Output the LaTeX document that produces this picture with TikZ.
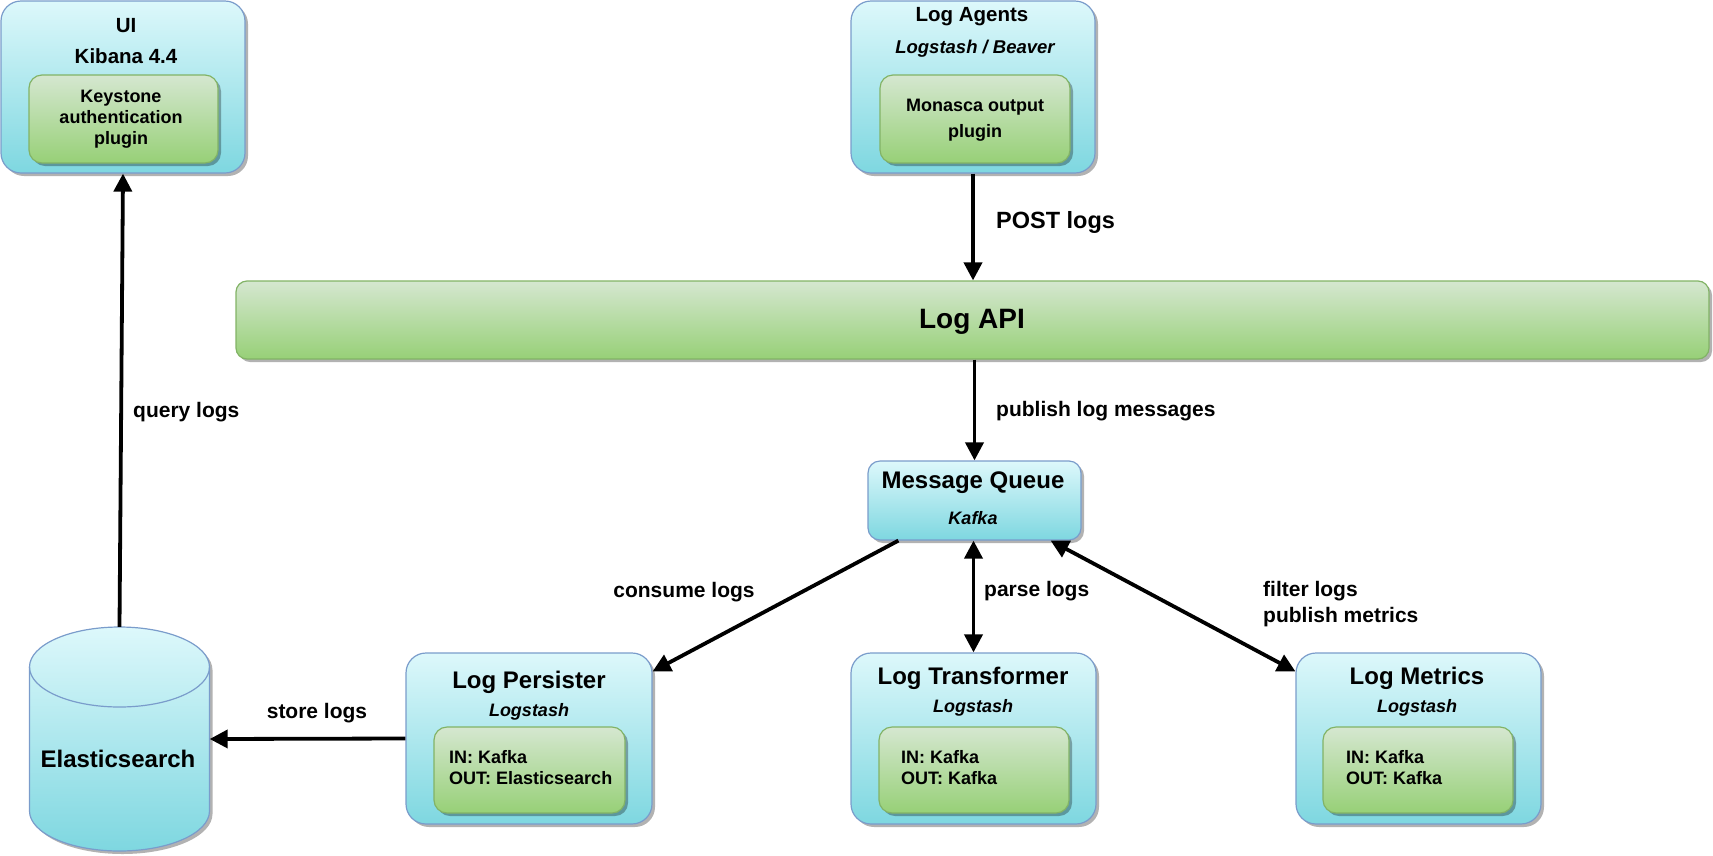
\documentclass[tikz,border=0pt]{standalone}
\usepackage{fontspec}
\setmainfont{Liberation Sans}
\usetikzlibrary{arrows.meta,shadows}
\definecolor{bluetop}{HTML}{DDF8FB}
\definecolor{bluebot}{HTML}{7ED7E0}
\definecolor{bluedraw}{HTML}{7A9CCB}
\definecolor{greentop}{HTML}{D5E7D0}
\definecolor{greenbot}{HTML}{97D077}
\definecolor{greendraw}{HTML}{82B366}
\begin{document}
\begin{tikzpicture}[x=1pt,y=-1pt,
  shd/.style={drop shadow={shadow xshift=3pt,shadow yshift=-3pt,fill=black,opacity=0.3}},
  outerbox/.style={draw=bluedraw,line width=1.2pt,rounded corners=20pt,top color=bluetop,bottom color=bluebot,shd,inner sep=0pt},
  innerbox/.style={draw=greendraw,line width=1.2pt,rounded corners=13pt,top color=greentop,bottom color=greenbot,shd,inner sep=0pt},
  apibox/.style={draw=greendraw,line width=1.2pt,rounded corners=11pt,top color=greentop,bottom color=greenbot,shd,inner sep=0pt},
  ttl/.style={font=\fontsize{24}{28}\selectfont\bfseries,inner sep=0pt},
  ttlsmall/.style={font=\fontsize{20.5}{31}\selectfont\bfseries,inner sep=0pt,align=center},
  sub/.style={font=\fontsize{18.5}{22}\selectfont\bfseries\itshape,inner sep=0pt},
  intext/.style={font=\fontsize{18}{21}\selectfont\bfseries,inner sep=0pt},
  lab/.style={font=\fontsize{21}{26}\selectfont\bfseries,inner sep=0pt},
  arr/.style={line width=3.8pt,-{Triangle[length=18pt,width=18pt]}},
  darr/.style={line width=3.8pt,{Triangle[length=18pt,width=18pt]}-{Triangle[length=18pt,width=18pt]}}
]
\useasboundingbox (0,0) rectangle (1713,855);

% UI
\node[outerbox,minimum width=244pt,minimum height=172pt] (ui) at (123,87) {};
\node[innerbox,minimum width=189pt,minimum height=88pt] (uiin) at (123.5,119) {};
\node[ttlsmall] (uititle) at (126,41.5) {UI\\Kibana 4.4};
\node[intext,align=center] (uitext) at (121,119) {Keystone\\authentication\\plugin};

% Log Agents
\node[outerbox,minimum width=244pt,minimum height=172pt] (agents) at (973,87) {};
\node[innerbox,minimum width=190pt,minimum height=88pt] (agentsin) at (975,119) {};
\node[ttlsmall] (agentstitle) at (972,17) {Log Agents};
\node[sub] (agentssub) at (975,49) {Logstash / Beaver};
\node[intext,align=center,font=\fontsize{18}{26}\selectfont\bfseries] (agentstext) at (975,120) {Monasca output\\plugin};

% Log API
\node[apibox,minimum width=1473pt,minimum height=78pt] (api) at (972.5,320) {};
\node[font=\fontsize{28}{32}\selectfont\bfseries,inner sep=0pt] (apitext) at (972,322) {Log API};

% Message Queue
\node[outerbox,rounded corners=12pt,minimum width=213pt,minimum height=79pt] (mq) at (974.5,500.5) {};
\node[ttl] (mqtitle) at (973,483) {Message Queue};
\node[sub,font=\fontsize{18}{22}\selectfont\bfseries\itshape] (mqsub) at (973,518) {Kafka};

% Log Persister
\node[outerbox,minimum width=246pt,minimum height=171pt] (pers) at (529,738.5) {};
\node[innerbox,minimum width=191pt,minimum height=86pt] (persin) at (529.5,770) {};
\node[ttl] (perstitle) at (529,682) {Log Persister};
\node[sub,font=\fontsize{18}{22}\selectfont\bfseries\itshape] (perssub) at (529,712) {Logstash};
\node[intext,align=left,anchor=west] (perstext) at (449,767.5) {IN: Kafka\\OUT: Elasticsearch};

% Log Transformer
\node[outerbox,minimum width=245pt,minimum height=171pt] (trans) at (973.5,738.5) {};
\node[innerbox,minimum width=190pt,minimum height=86pt] (transin) at (974,770) {};
\node[ttl] (transtitle) at (973,678) {Log Transformer};
\node[sub,font=\fontsize{18}{22}\selectfont\bfseries\itshape] (transsub) at (973,708) {Logstash};
\node[intext,align=left,anchor=west] (transtext) at (901,767.5) {IN: Kafka\\OUT: Kafka};

% Log Metrics
\node[outerbox,minimum width=245pt,minimum height=171pt] (metrics) at (1418.5,738.5) {};
\node[innerbox,minimum width=190pt,minimum height=86pt] (metricsin) at (1418,770) {};
\node[ttl] (metricstitle) at (1417,678) {Log Metrics};
\node[sub,font=\fontsize{18}{22}\selectfont\bfseries\itshape] (metricssub) at (1417,708) {Logstash};
\node[intext,align=left,anchor=west] (metricstext) at (1346,767.5) {IN: Kafka\\OUT: Kafka};

% Elasticsearch cylinder
\begin{scope}[shift={(3,3)}]
\fill[black,opacity=0.3] (29.5,667) -- (29.5,811) arc[start angle=180,end angle=360,x radius=90pt,y radius=40pt] -- (209.5,667) arc[start angle=0,end angle=180,x radius=90pt,y radius=40pt] -- cycle;
\end{scope}
\path[top color=bluetop,bottom color=bluebot,draw=bluedraw,line width=1.2pt] (29.5,667) -- (29.5,811) arc[start angle=180,end angle=360,x radius=90pt,y radius=40pt] -- (209.5,667) arc[start angle=0,end angle=180,x radius=90pt,y radius=40pt] -- cycle;
\draw[bluedraw,line width=1.2pt] (29.5,667) arc[start angle=180,end angle=360,x radius=90pt,y radius=40pt];
\node[inner sep=0pt,minimum width=180pt,minimum height=224pt] (es) at (119.5,739) {};
\node[ttl] (estext) at (118,759) {Elasticsearch};

% connectors
\draw[arr] (es.north) -- (ui.south);
\draw[arr] (agents.south) -- (agents.south |- api.north);
\draw[arr] (mq.north |- api.south) -- (mq.north);
\draw[darr] (trans.north |- mq.south) -- (trans.north);
\draw[arr] ([xshift=31pt]mq.south west) -- ([yshift=-19pt]pers.north east);
\draw[darr] ([xshift=-31pt]mq.south east) -- ([yshift=-19pt]metrics.north west);
\draw[arr] (pers.west) -- (es.east);

% labels
\node[lab,anchor=west,font=\fontsize{23.5}{28}\selectfont\bfseries] (lpost) at (996,222) {POST logs};
\node[lab,anchor=west] (lpub) at (996,411) {publish log messages};
\node[lab,anchor=west] (lquery) at (133,412) {query logs};
\node[lab] (lcons) at (684,592) {consume logs};
\node[lab,anchor=west] (lparse) at (984,591) {parse logs};
\node[lab,anchor=west,align=left] (lfilt) at (1263,604) {filter logs\\publish metrics};
\node[lab] (lstore) at (317,713) {store logs};
\end{tikzpicture}
\end{document}
